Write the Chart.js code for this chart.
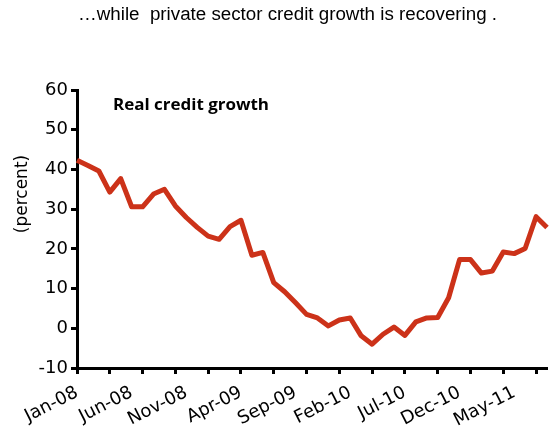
<!DOCTYPE html>
<html>
<head>
<meta charset="utf-8">
<script src="https://cdn.jsdelivr.net/npm/chart.js@4"></script>
<style>
  html, body { margin: 0; padding: 0; background: #fff; }
  #wrap { width: 556px; height: 430px; }
</style>
</head>
<body>
<div id="wrap"><canvas id="chartCredit" width="556" height="430"></canvas></div>
<script>
const months = [
    'Jan-08', 'Feb-08', 'Mar-08', 'Apr-08', 'May-08', 'Jun-08', 'Jul-08', 'Aug-08', 'Sep-08', 'Oct-08', 'Nov-08', 'Dec-08',
    'Jan-09', 'Feb-09', 'Mar-09', 'Apr-09', 'May-09', 'Jun-09', 'Jul-09', 'Aug-09', 'Sep-09', 'Oct-09', 'Nov-09', 'Dec-09',
    'Jan-10', 'Feb-10', 'Mar-10', 'Apr-10', 'May-10', 'Jun-10', 'Jul-10', 'Aug-10', 'Sep-10', 'Oct-10', 'Nov-10', 'Dec-10',
    'Jan-11', 'Feb-11', 'Mar-11', 'Apr-11', 'May-11', 'Jun-11', 'Jul-11', 'Aug-11'
];
const realCreditGrowth = [
    42.3, 41.0, 39.6, 34.3, 37.7, 30.6, 30.6, 33.8, 35.0, 30.8, 27.9, 25.4,
    23.2, 22.4, 25.6, 27.2, 18.4, 19.1, 11.5, 9.2, 6.4, 3.5, 2.6, 0.6,
    2.1, 2.6, -1.9, -4.0, -1.5, 0.3, -1.8, 1.6, 2.6, 2.7, 7.7, 17.3,
    17.3, 13.9, 14.4, 19.2, 18.8, 20.1, 28.1, 25.4
];
const yTicks = { min: -10, max: 60, step: 10 };
const chartTitle = '\u2026while  private sector credit growth is recovering .';
const seriesNote = 'Real credit growth';
const yTitle = '(percent)';

// chữ kéo giãn theo chiều ngang
function stretchText(ctx, text, x, y, width) {
    const w = ctx.measureText(text).width;
    ctx.save();
    ctx.translate(x, y);
    ctx.scale(width / w, 1);
    ctx.fillText(text, 0, 0);
    ctx.restore();
}

const textPlugin = {
    id: 'extraText',
    afterDraw(chart) {
        const ctx = chart.ctx;
        ctx.save();
        ctx.fillStyle = '#000';
        ctx.textAlign = 'left';
        ctx.textBaseline = 'middle';
        ctx.font = '18px "Liberation Sans", Arial, sans-serif';
        stretchText(ctx, chartTitle, 78, 15, 419);

        ctx.font = 'bold 16px "Open Sans", Lato, sans-serif';
        stretchText(ctx, seriesNote, 113, 105, 156);

        ctx.font = '17px "DejaVu Sans", sans-serif';
        ctx.translate(23, 194);
        ctx.rotate(-Math.PI / 2);
        ctx.textAlign = 'center';
        ctx.fillText(yTitle, 0, 0);
        ctx.restore();
    }
};

new Chart(document.getElementById('chartCredit'), {
    type: 'line',
    data: {
        labels: months,
        datasets: [{
            data: realCreditGrowth,
            borderColor: '#CC3219',
            borderWidth: 5,
            pointRadius: 0,
            tension: 0,
            fill: false,
            borderJoinStyle: 'round'
        }]
    },
    options: {
        responsive: false,
        animation: false,
        layout: { padding: { top: 90, right: 9, left: 0, bottom: 0 } },
        plugins: {
            legend: { display: false },
            tooltip: { enabled: false }
        },
        scales: {
            x: {
                offset: false,
                afterFit: s => { s.height = 62; s.paddingLeft = 0; s.paddingRight = 0; },
                border: { color: '#000', width: 3 },
                grid: {
                    drawOnChartArea: false,
                    tickLength: 6,
                    tickWidth: 3,
                    tickColor: c => (c.index % 3 === 0 ? '#000' : 'rgba(0,0,0,0)')
                },
                ticks: {
                    autoSkip: false,
                    minRotation: 27,
                    maxRotation: 27,
                    padding: 8,
                    color: '#000',
                    font: { family: '"DejaVu Sans", sans-serif', size: 18 },
                    callback: function (v, i) { return i % 5 === 0 ? months[i] : ''; }
                }
            },
            y: {
                min: yTicks.min,
                max: yTicks.max,
                afterFit: s => { s.width = 77; },
                border: { color: '#000', width: 3 },
                grid: {
                    drawOnChartArea: false,
                    tickLength: 6,
                    tickWidth: 3,
                    tickColor: '#000'
                },
                ticks: {
                    stepSize: yTicks.step,
                    padding: 3,
                    color: '#000',
                    font: { family: '"DejaVu Sans", sans-serif', size: 18 }
                }
            }
        }
    },
    plugins: [textPlugin]
});
</script>
</body>
</html>
